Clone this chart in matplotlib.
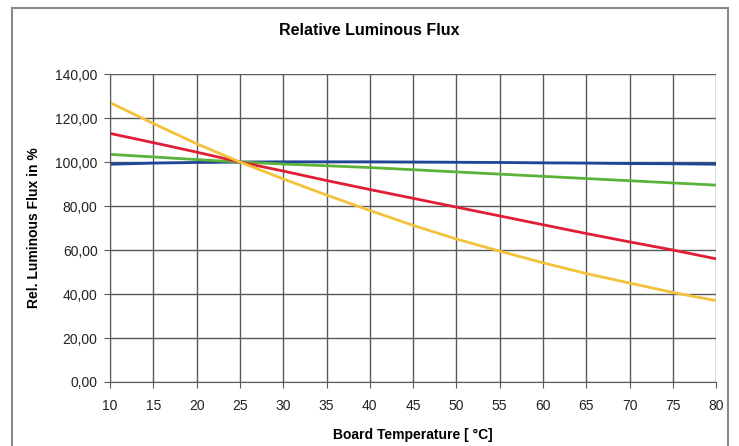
import matplotlib
matplotlib.use("Agg")
import matplotlib.pyplot as plt
from matplotlib.patches import Rectangle
from matplotlib.ticker import FuncFormatter

temps = [10, 15, 20, 25, 30, 35, 40, 45, 50, 55, 60, 65, 70, 75, 80]
flux_blue = [99.0, 99.5, 99.8, 100.0, 100.1, 100.1, 100.1, 100.0, 99.9, 99.8, 99.6, 99.5, 99.3, 99.2, 99.0]
flux_green = [103.5, 102.3, 101.1, 100.0, 99.1, 98.3, 97.5, 96.5, 95.5, 94.5, 93.5, 92.5, 91.5, 90.5, 89.5]
flux_red = [113.0, 108.8, 104.5, 100.0, 95.9, 91.6, 87.5, 83.5, 79.5, 75.5, 71.5, 67.5, 63.7, 60.0, 56.0]
flux_yellow = [127.0, 117.5, 108.3, 100.0, 92.3, 85.0, 78.0, 71.2, 65.0, 59.5, 54.2, 49.3, 45.0, 40.7, 37.0]

plt.rcParams['font.family'] = ['Liberation Sans', 'DejaVu Sans']

fig = plt.figure(figsize=(7.39, 4.46), dpi=100)
fig.patches.append(Rectangle((12 / 739, -0.05), 716 / 739, 1.05 - 8 / 446,
                             transform=fig.transFigure, fill=False,
                             edgecolor='#8a8a8a', linewidth=1.5))

ax = fig.add_axes([0.149, 0.1435, 0.82, 0.6905])

ax.plot(temps, flux_blue, color='#1f4596', lw=2.0)
ax.plot(temps, flux_green, color='#5cb33a', lw=2.0)
ax.plot(temps, flux_red, color='#e01e35', lw=2.0)
ax.plot(temps, flux_yellow, color='#f2c23a', lw=2.0)

ax.set_xlim(10, 80)
ax.set_ylim(0, 140)
ax.set_xticks(range(10, 81, 5))
ax.set_yticks(range(0, 141, 20))
ax.yaxis.set_major_formatter(FuncFormatter(lambda v, p: f"{v:.2f}".replace('.', ',')))
ax.grid(True, color='#5a5a5a', lw=1.0)
ax.set_axisbelow(True)
for s in ['top', 'right']:
    ax.spines[s].set_visible(False)
for s in ['left', 'bottom']:
    ax.spines[s].set_color('#5a5a5a')
ax.tick_params(direction='out', length=4, color='#5a5a5a', labelsize=10,
               labelcolor='#222222')
ax.tick_params(axis='x', pad=8)
ax.tick_params(axis='y', pad=5)

ax.set_ylabel('Rel. Luminous Flux in %', fontsize=10, fontweight='bold', labelpad=10)
ax.set_xlabel('Board Temperature [ °C]', fontsize=10, fontweight='bold', labelpad=11)
fig.text(0.5, 0.932, 'Relative Luminous Flux', ha='center', va='center',
         fontsize=11.5, fontweight='bold')

fig.savefig('out.png', dpi=100)
